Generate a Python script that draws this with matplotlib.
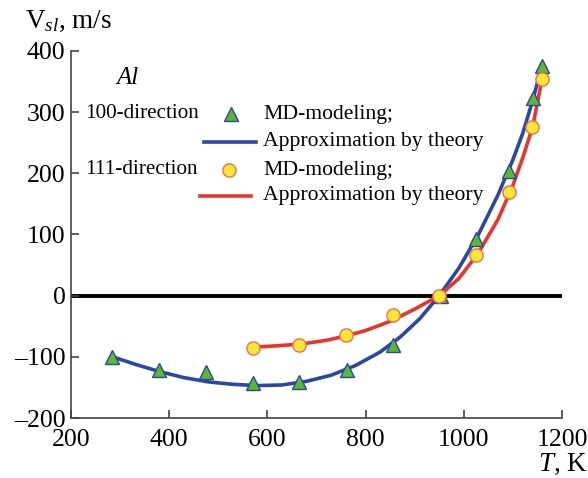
import numpy as np
import matplotlib.pyplot as plt
from matplotlib.ticker import FuncFormatter

plt.rcParams['font.family'] = ['Liberation Serif', 'DejaVu Serif']
plt.rcParams['mathtext.fontset'] = 'custom'
plt.rcParams['mathtext.rm'] = 'Liberation Serif'
plt.rcParams['mathtext.it'] = 'Liberation Serif:italic'

# MD-modeling points
t_100 = [283, 379, 475, 571, 664, 762, 856, 953, 1025, 1092, 1141, 1159]
v_100 = [-100, -121, -125, -143, -141, -122, -80, 0, 93, 203, 323, 375]
t_111 = [571, 664, 760, 856, 950, 1025, 1092, 1140, 1159]
v_111 = [-86, -81, -65, -32, 0, 67, 169, 275, 354]

# approximation curves
tc_100 = [285, 330, 380, 430, 480, 530, 580, 630, 680, 730, 780, 830, 870,
          910, 950, 990, 1030, 1070, 1100, 1120, 1140, 1160]
vc_100 = [-100, -112, -124, -134, -141, -145, -147, -146, -140, -130, -114,
          -92, -68, -38, 0, 45, 100, 165, 222, 265, 318, 378]
tc_111 = [573, 620, 670, 720, 760, 800, 850, 900, 950, 990, 1030, 1070,
          1100, 1120, 1140, 1160]
vc_111 = [-84, -82, -79, -73, -66, -57, -42, -22, 0, 28, 70, 125, 180,
          225, 275, 356]

blue = '#2b47a6'
red = '#e8352a'

fig = plt.figure(figsize=(5.88, 4.78), dpi=100)
ax = fig.add_axes([0.1207, 0.1255, 0.835, 0.768])

ax.axhline(0, color='black', lw=2.8, zorder=1)
ax.plot(tc_100, vc_100, color=blue, lw=2.6, zorder=2)
ax.plot(tc_111, vc_111, color=red, lw=2.6, zorder=2)
ax.plot(t_100, v_100, linestyle='none', marker='^', ms=10,
        mfc='#5cb82c', mec=blue, mew=1.0, zorder=3)
ax.plot(t_111, v_111, linestyle='none', marker='o', ms=9.5,
        mfc='#f6e83a', mec='#f07040', mew=1.0, zorder=3)

ax.set_xlim(200, 1200)
ax.set_ylim(-200, 400)
ax.set_xticks([200, 400, 600, 800, 1000, 1200])
ax.set_yticks([-200, -100, 0, 100, 200, 300, 400])
# en dash as minus, like the original typesetting
ax.yaxis.set_major_formatter(FuncFormatter(
    lambda v, p: ('\u2013%d' % -v) if v < 0 else '%d' % v))
for s in ['top', 'right']:
    ax.spines[s].set_visible(False)
for s in ['left', 'bottom']:
    ax.spines[s].set_color('#444444')
    ax.spines[s].set_linewidth(1.2)
ax.tick_params(direction='in', length=6, width=1.2, color='#444444',
               labelsize=18.5)
ax.tick_params(axis='x', pad=8)
ax.tick_params(axis='y', pad=4)

# axis labels
fig.text(25 / 588, 1 - 28 / 478, r'V$_{\mathit{sl}}$, m/s', fontsize=19.5,
         ha='left', va='baseline')
fig.text(588 / 588, 1 - 471 / 478, r'$\mathit{T}$, K', fontsize=19.5,
         ha='right', va='baseline')


# pixel position (from top-left) -> data coords
def px(x, y):
    return ax.transData.inverted().transform((x, 478 - y))


x0, y0 = px(116, 78)
ax.text(x0, y0, 'Al', style='italic', fontsize=18, ha='left', va='center')

# hand-made legend
x0, y0 = px(85, 114)
ax.text(x0, y0, '100-direction', fontsize=15.2, va='center')
x0, y0 = px(85, 170)
ax.text(x0, y0, '111-direction', fontsize=15.2, va='center')

x0, y0 = px(231, 114)
ax.plot([x0], [y0], marker='^', ms=10, mfc='#5cb82c', mec=blue, mew=1.0,
        clip_on=False)
x0, y0 = px(229, 170)
ax.plot([x0], [y0], marker='o', ms=9.5, mfc='#f6e83a', mec='#f07040',
        mew=1.0, clip_on=False)
xa, ya = px(204, 142)
xb, yb = px(256, 142)
ax.plot([xa, xb], [ya, yb], color=blue, lw=2.6)
xa, ya = px(200, 196)
xb, yb = px(251, 196)
ax.plot([xa, xb], [ya, yb], color=red, lw=2.6)

for yy, label in [(114, 'MD-modeling;'), (142, 'Approximation by theory'),
                  (170, 'MD-modeling;'), (196, 'Approximation by theory')]:
    x0, y0 = px(263, yy)
    ax.text(x0, y0, label, fontsize=15.6, va='center')

fig.savefig('out.png', dpi=100)
